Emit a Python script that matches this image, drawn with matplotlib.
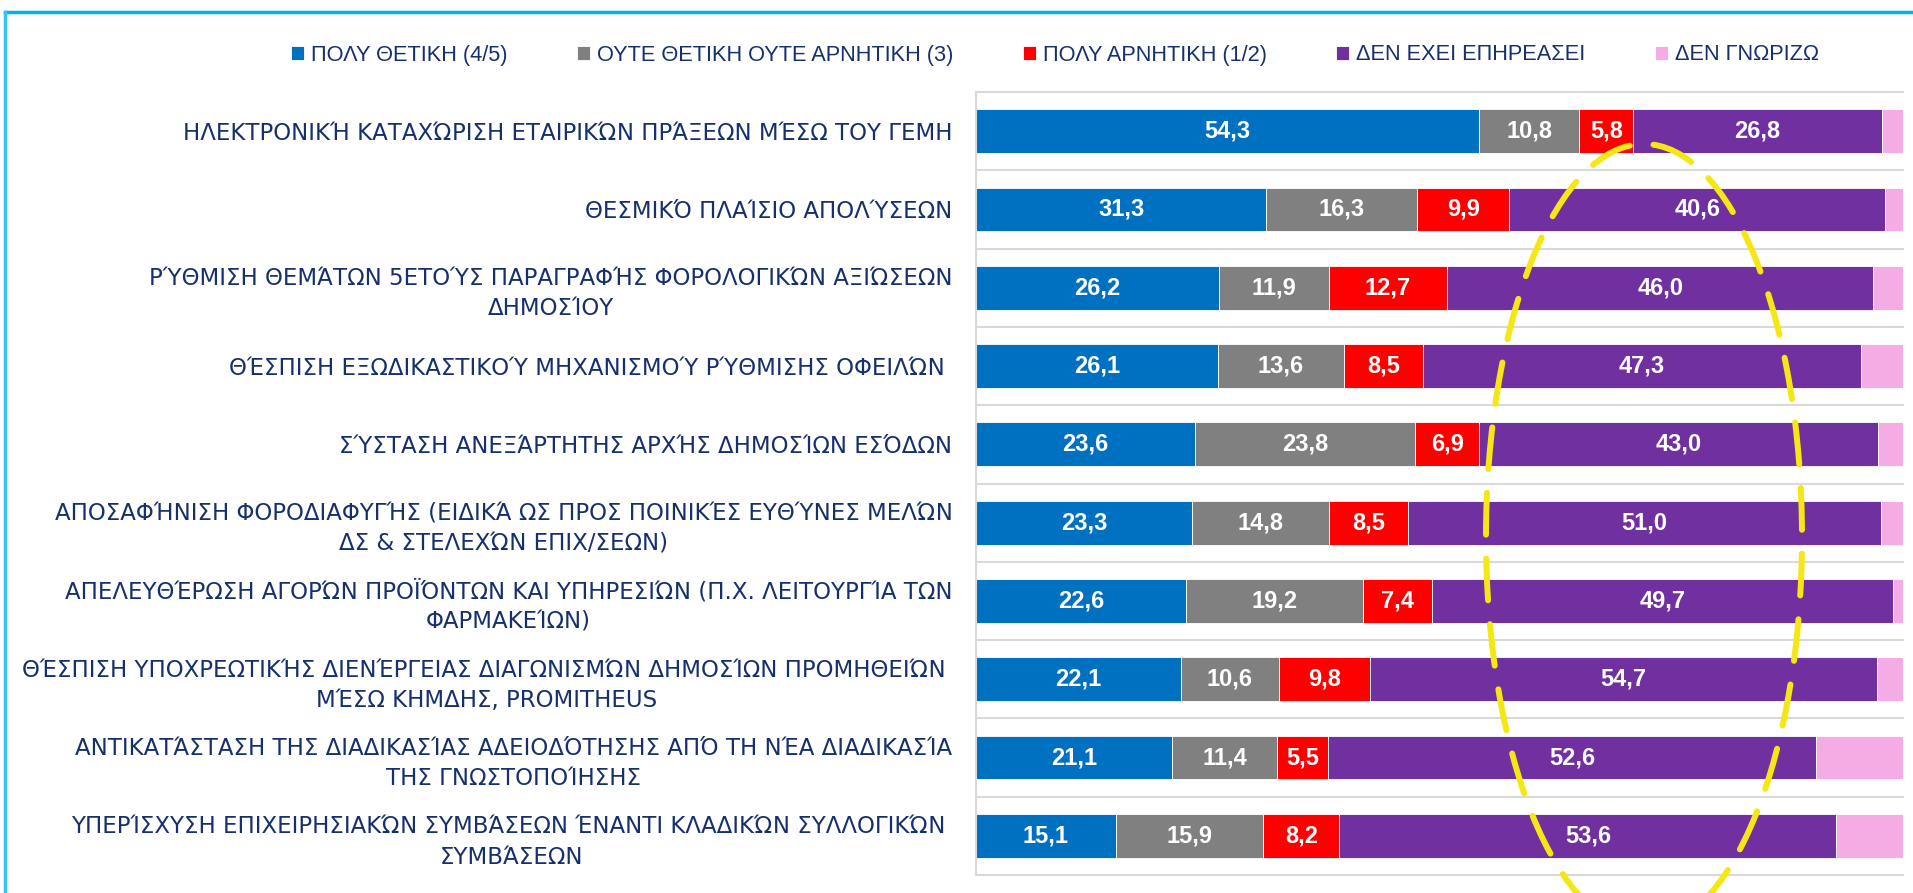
"""
Stacked horizontal bars: impact of reforms (Greek survey), percentages per answer.
"""
import numpy as np
import matplotlib
matplotlib.use("Agg")
import matplotlib.pyplot as plt
from matplotlib.patches import Ellipse
from matplotlib.lines import Line2D
from matplotlib.font_manager import FontProperties

# ---- data -------------------------------------------------------------
categories = [
    "ΗΛΕΚΤΡΟΝΙΚΉ ΚΑΤΑΧΏΡΙΣΗ ΕΤΑΙΡΙΚΏΝ ΠΡΆΞΕΩΝ ΜΈΣΩ ΤΟΥ ΓΕΜΗ",
    "ΘΕΣΜΙΚΌ ΠΛΑΊΣΙΟ ΑΠΟΛΎΣΕΩΝ",
    "ΡΎΘΜΙΣΗ ΘΕΜΆΤΩΝ 5ΕΤΟΎΣ ΠΑΡΑΓΡΑΦΉΣ ΦΟΡΟΛΟΓΙΚΏΝ ΑΞΙΏΣΕΩΝ\nΔΗΜΟΣΊΟΥ",
    "ΘΈΣΠΙΣΗ ΕΞΩΔΙΚΑΣΤΙΚΟΎ ΜΗΧΑΝΙΣΜΟΎ ΡΎΘΜΙΣΗΣ ΟΦΕΙΛΏΝ ",
    "ΣΎΣΤΑΣΗ ΑΝΕΞΆΡΤΗΤΗΣ ΑΡΧΉΣ ΔΗΜΟΣΊΩΝ ΕΣΌΔΩΝ",
    "ΑΠΟΣΑΦΉΝΙΣΗ ΦΟΡΟΔΙΑΦΥΓΉΣ (ΕΙΔΙΚΆ ΩΣ ΠΡΟΣ ΠΟΙΝΙΚΈΣ ΕΥΘΎΝΕΣ ΜΕΛΏΝ\nΔΣ & ΣΤΕΛΕΧΏΝ ΕΠΙΧ/ΣΕΩΝ)",
    "ΑΠΕΛΕΥΘΈΡΩΣΗ ΑΓΟΡΏΝ ΠΡΟΪΌΝΤΩΝ ΚΑΙ ΥΠΗΡΕΣΙΏΝ (Π.Χ. ΛΕΙΤΟΥΡΓΊΑ ΤΩΝ\nΦΑΡΜΑΚΕΊΩΝ)",
    "ΘΈΣΠΙΣΗ ΥΠΟΧΡΕΩΤΙΚΉΣ ΔΙΕΝΈΡΓΕΙΑΣ ΔΙΑΓΩΝΙΣΜΏΝ ΔΗΜΟΣΊΩΝ ΠΡΟΜΗΘΕΙΏΝ \nΜΈΣΩ ΚΗΜΔΗΣ, PROMITHEUS",
    "ΑΝΤΙΚΑΤΆΣΤΑΣΗ ΤΗΣ ΔΙΑΔΙΚΑΣΊΑΣ ΑΔΕΙΟΔΌΤΗΣΗΣ ΑΠΌ ΤΗ ΝΈΑ ΔΙΑΔΙΚΑΣΊΑ\nΤΗΣ ΓΝΩΣΤΟΠΟΊΗΣΗΣ",
    "ΥΠΕΡΊΣΧΥΣΗ ΕΠΙΧΕΙΡΗΣΙΑΚΏΝ ΣΥΜΒΆΣΕΩΝ ΈΝΑΝΤΙ ΚΛΑΔΙΚΏΝ ΣΥΛΛΟΓΙΚΏΝ \nΣΥΜΒΆΣΕΩΝ",
]

series_names = ["ΠΟΛΥ ΘΕΤΙΚΗ (4/5)", "ΟΥΤΕ ΘΕΤΙΚΗ ΟΥΤΕ ΑΡΝΗΤΙΚΗ (3)",
                "ΠΟΛΥ ΑΡΝΗΤΙΚΗ (1/2)", "ΔΕΝ ΕΧΕΙ ΕΠΗΡΕΑΣΕΙ", "ΔΕΝ ΓΝΩΡΙΖΩ"]

very_positive = [54.3, 31.3, 26.2, 26.1, 23.6, 23.3, 22.6, 22.1, 21.1, 15.1]
neutral = [10.8, 16.3, 11.9, 13.6, 23.8, 14.8, 19.2, 10.6, 11.4, 15.9]
very_negative = [5.8, 9.9, 12.7, 8.5, 6.9, 8.5, 7.4, 9.8, 5.5, 8.2]
no_effect = [26.8, 40.6, 46.0, 47.3, 43.0, 51.0, 49.7, 54.7, 52.6, 53.6]
dont_know = [2.3, 1.9, 3.2, 4.5, 2.7, 2.4, 1.1, 2.8, 9.4, 7.2]

colors = ["#0070C0", "#808080", "#FF0000", "#7030A0", "#F5ABE3"]
text_navy = "#15306C"
narrow = ["Liberation Sans Narrow", "Liberation Sans", "DejaVu Sans"]

# ---- figure -------------------------------------------------------------
W, H = 1913, 893
fig = plt.figure(figsize=(W / 100, H / 100), dpi=100)
ax = fig.add_axes([976 / W, 18 / H, 927 / W, 783 / H])

y = np.arange(len(categories))
left = np.zeros(len(categories))
handles = []
all_series = [very_positive, neutral, very_negative, no_effect, dont_know]
for i, (name, vals, col) in enumerate(zip(series_names, all_series, colors)):
    vals = np.array(vals)
    bars = ax.barh(y, vals, left=left, height=0.56, color=col,
                   edgecolor="white", linewidth=0.6, label=name, zorder=2)
    handles.append(bars)
    if i < 4:
        ax.bar_label(bars, labels=[f"{v:.1f}".replace(".", ",") for v in vals],
                     label_type="center", color="white", fontsize=17,
                     fontweight="bold", family=narrow)
    left += vals

ax.set_xlim(0, 100)
ax.set_ylim(len(categories) - 0.5, -0.5)
ax.set_xticks([])
ax.set_yticks(y, categories, fontsize=16.5, color=text_navy,
              family=["DejaVu Sans"])
for t in ax.get_yticklabels():
    t.set_multialignment("center")
    t.set_linespacing(1.4)
ax.tick_params(axis="y", length=0, pad=17)

# row separators
for b in np.arange(len(categories) + 1) - 0.5:
    ax.axhline(b, color="#D9D9D9", lw=1.5, zorder=1, clip_on=False)
for s in ["top", "right", "bottom"]:
    ax.spines[s].set_visible(False)
ax.spines["left"].set_color("#D9D9D9")
ax.spines["left"].set_linewidth(1.5)

# legend
leg = fig.legend(handles, series_names, loc="center",
                 bbox_to_anchor=(1055 / W, 1 - 55 / H), ncol=5, frameon=False,
                 handlelength=0.6, handleheight=0.6, handletextpad=0.3,
                 columnspacing=3.2,
                 prop=FontProperties(family=narrow, size=15.7))
for t in leg.get_texts():
    t.set_color(text_navy)

# outer frame (cyan top and left edges)
fig.add_artist(Line2D([5 / W, 1], [1 - 12 / H] * 2, color="#00B0F0", lw=2.5))
fig.add_artist(Line2D([5 / W] * 2, [0, 1 - 12 / H], color="#33C4F4", lw=2.5))

# hand-drawn highlight ellipse
ell = Ellipse((16.44, (H - 537) / 100), 3.16, 7.86,
              transform=fig.dpi_scale_trans, fill=False, edgecolor="#F5E614",
              lw=4.3, linestyle=(0, (7, 4)), capstyle="round", clip_on=False,
              zorder=10)
fig.add_artist(ell)

fig.savefig("out.png", dpi=100)
